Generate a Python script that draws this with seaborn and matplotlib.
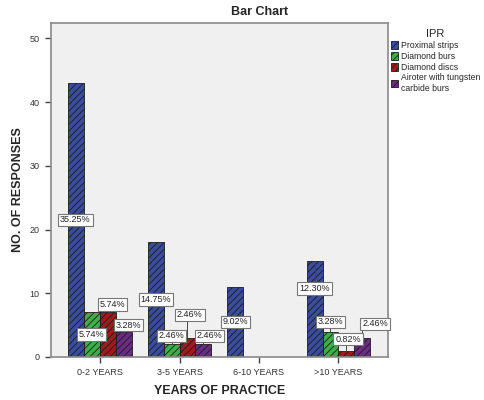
import numpy as np
import pandas as pd
import matplotlib
matplotlib.use("Agg")
import matplotlib.pyplot as plt
import seaborn as sns

# datos
years = ["0-2 YEARS", "3-5 YEARS", "6-10 YEARS", ">10 YEARS"]
ipr = ["Proximal strips", "Diamond burs", "Diamond discs",
       "Airoter with tungsten\ncarbide burs"]
proximal_strips = [43, 18, 11, 15]
diamond_burs = [7, 2, np.nan, 4]
diamond_discs = [7, 3, np.nan, 1]
airoter = [4, 2, np.nan, 3]
pct_labels = [
    ["35.25%", "14.75%", "9.02%", "12.30%"],
    ["5.74%", "2.46%", None, "3.28%"],
    ["5.74%", "2.46%", None, "0.82%"],
    ["3.28%", "2.46%", None, "2.46%"],
]

colors = ["#3a4c9c", "#3fae4a", "#a11a1e", "#6a2b82"]

sns.set_style("ticks")
plt.rcParams["font.family"] = ["Liberation Sans", "DejaVu Sans"]
plt.rcParams["hatch.linewidth"] = 0.6

series = [proximal_strips, diamond_burs, diamond_discs, airoter]
rows = []
for name, vals in zip(ipr, series):
    for y, v in zip(years, vals):
        rows.append({"years": y, "ipr": name, "count": v})
df = pd.DataFrame(rows)

fig = plt.figure(figsize=(4.84, 4.0), dpi=100)
ax = fig.add_axes([0.105, 0.1075, 0.696, 0.835])
ax.set_facecolor("#f0f0f0")

sns.barplot(data=df, x="years", y="count", hue="ipr", order=years,
            hue_order=ipr, palette=colors, width=0.8, saturation=1,
            errorbar=None, edgecolor="#1c1c1c", linewidth=0.6, ax=ax)

for cont in ax.containers:
    for bar in cont:
        bar.set_hatch("/////")

# etiquetas de porcentaje (posicion: desplazamiento x, altura y)
offsets = [-0.3, -0.1, 0.1, 0.3]
label_pos = [
    [(-0.01, None), (0.0, None), (0.0, None), (0.0, 10.7)],
    [(-0.01, None), (0.0, 3.3), None, (0.0, 5.5)],
    [(0.06, 8.2), (0.03, 6.6), None, (0.02, 2.8)],
    [(0.06, 5.0), (0.08, 3.3), None, (0.16, 5.2)],
]
for h in range(4):
    for g in range(4):
        txt = pct_labels[h][g]
        if txt is None:
            continue
        val = series[h][g]
        xb = g + offsets[h]
        dx, ly = label_pos[h][g]
        if ly is None:
            ly = val / 2
        else:
            ax.plot([xb, xb], [val, ly], color="#444444", lw=0.7, zorder=4)
        ax.text(xb + dx, ly, txt, ha="center", va="center", fontsize=6.5,
                color="#222222", zorder=5,
                bbox=dict(boxstyle="square,pad=0.2", fc="white",
                          ec="#777777", lw=0.8))

ax.set_xlim(-0.62, 3.62)
ax.set_ylim(0, 52.4)
ax.set_yticks([0, 10, 20, 30, 40, 50])
ax.tick_params(axis="both", labelsize=6.5, length=4.5, width=1,
               color="#444444", labelcolor="#333333", direction="out")
for sp in ax.spines.values():
    sp.set_visible(True)
    sp.set_color("#8a8a8a")
    sp.set_linewidth(1.2)

ax.set_xlabel("YEARS OF PRACTICE", fontsize=9, fontweight="bold", labelpad=6)
ax.set_ylabel("NO. OF RESPONSES", fontsize=9, fontweight="bold", labelpad=4)
fig.text(0.537, 0.97, "Bar Chart", ha="center", va="center",
         fontsize=9, fontweight="bold")

ax.get_legend().remove()
handles = [plt.Rectangle((0, 0), 1, 1, fc=c, ec="#1c1c1c", lw=0.6,
                         hatch="/////") for c in colors]
leg = fig.legend(handles, ipr, title="IPR", loc="upper left",
                 bbox_to_anchor=(0.8, 0.935), frameon=False,
                 fontsize=6.2, title_fontsize=8, handlelength=0.9,
                 handleheight=1.0, handletextpad=0.3, labelspacing=0.2,
                 borderaxespad=0, alignment="center")

fig.savefig("out.png", dpi=100)
